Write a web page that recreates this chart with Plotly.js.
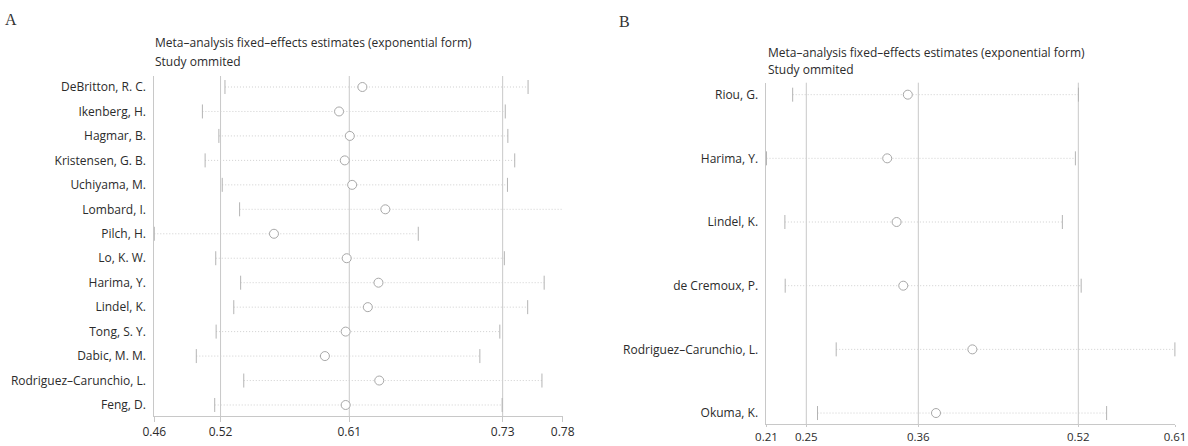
<!DOCTYPE html>
<html>
<head>
<meta charset="utf-8">
<script src="https://cdn.plot.ly/plotly-3.0.1.min.js"></script>
<style>html,body{margin:0;padding:0;background:#fff;}#chart{width:1188px;height:446px;}</style>
</head>
<body>
<div id="chart"></div>
<script>
// ---------- Panel A data ----------
var studiesA = ["DeBritton, R. C.","Ikenberg, H.","Hagmar, B.","Kristensen, G. B.","Uchiyama, M.","Lombard, I.","Pilch, H.","Lo, K. W.","Harima, Y.","Lindel, K.","Tong, S. Y.","Dabic, M. M.","Rodriguez\u2013Carunchio, L.","Feng, D."];
var estA  = [0.6245,0.6065,0.6148,0.6109,0.6166,0.6422,0.5563,0.6124,0.6369,0.6287,0.6116,0.5956,0.6375,0.6116];
var lowA  = [0.5185,0.5011,0.5138,0.5032,0.5164,0.5298,0.4640,0.5114,0.5306,0.5253,0.5117,0.4964,0.5330,0.5106];
var highA = [0.7523,0.7347,0.7367,0.7420,0.7364,0.7792,0.6676,0.7340,0.7647,0.7520,0.7305,0.7151,0.7630,0.7323];
var refA  = [0.5151,0.6144,0.7327];          // overall lower CI, estimate, upper CI
var tickValsA = [0.464,0.5151,0.6144,0.7327,0.779];
var tickTextA = ["0.46","0.52","0.61","0.73","0.78"];

// ---------- Panel B data ----------
var studiesB = ["Riou, G.","Harima, Y.","Lindel, K.","de Cremoux, P.","Rodriguez\u2013Carunchio, L.","Okuma, K."];
var estB  = [0.3489,0.3285,0.3378,0.3444,0.4128,0.3768];
var lowB  = [0.2349,0.2090,0.2272,0.2275,0.2780,0.2595];
var highB = [0.5178,0.5148,0.5019,0.5205,0.6133,0.5457];
var refB  = [0.2484,0.3593,0.5177];
var tickValsB = [0.209,0.2484,0.3593,0.5177,0.6134];
var tickTextB = ["0.21","0.25","0.36","0.52","0.61"];

var titleLine1 = "Meta\u2013analysis fixed\u2013effects estimates (exponential form)";
var titleLine2 = "Study ommited";
var FONT = "Open Sans, Noto Sans, sans-serif";
var GRID = "#c8c8c8";
var CAP = "#b4b4b4";
var DOT = "#cfcfcf";
var CIRC = "#a8a8a8";
var TXT = "#2b2b2b";

function panelTraces(studies, est, low, high, xa, ya) {
  var lx = [], ly = [];
  for (var i = 0; i < studies.length; i++) {
    lx.push(low[i], high[i], null);
    ly.push(studies[i], studies[i], null);
  }
  return [
    {type:"scatter", mode:"lines", x:lx, y:ly, xaxis:xa, yaxis:ya,
     line:{color:DOT, width:1, dash:"1px,2px"}, hoverinfo:"skip", showlegend:false, cliponaxis:false},
    {type:"scatter", mode:"markers", x:low.concat(high), y:studies.concat(studies), xaxis:xa, yaxis:ya,
     marker:{symbol:"line-ns", size:10, line:{color:CAP, width:1}}, showlegend:false, cliponaxis:false},
    {type:"scatter", mode:"markers", x:est, y:studies, xaxis:xa, yaxis:ya,
     marker:{symbol:"circle", size:9, color:"#ffffff", line:{color:CIRC, width:1}}, showlegend:false, cliponaxis:false}
  ];
}

var data = panelTraces(studiesA, estA, lowA, highA, "x", "y")
  .concat(panelTraces(studiesB, estB, lowB, highB, "x2", "y2"));

var shapes = [];
refA.forEach(function(v){ shapes.push({type:"line", xref:"x", yref:"y domain", x0:v, x1:v, y0:0, y1:1, line:{color:GRID, width:1}, layer:"below"}); });
refB.forEach(function(v){ shapes.push({type:"line", xref:"x2", yref:"y2 domain", x0:v, x1:v, y0:0, y1:1, line:{color:GRID, width:1}, layer:"below"}); });

function xAxis(domain, tv, tt, anchor, tlen, fsize) {
  return {domain:domain, anchor:anchor, range:[tv[0], tv[tv.length-1]], tickvals:tv, ticktext:tt,
    showgrid:false, zeroline:false, showline:true, linecolor:GRID, linewidth:1,
    ticks:"outside", ticklen:tlen, tickcolor:GRID, tickfont:{family:FONT, size:fsize, color:TXT}, fixedrange:true};
}
function yAxis(domain, range, anchor) {
  return {domain:domain, anchor:anchor, type:"category", range:range, showgrid:false, zeroline:false,
    showline:true, linecolor:GRID, linewidth:1, ticks:"outside", ticklen:5, tickcolor:"rgba(0,0,0,0)",
    tickfont:{family:FONT, size:12, color:TXT}, fixedrange:true};
}

function txt(x, y, s, font) {
  return {xref:"paper", yref:"paper", x:x/1188, y:1-y/446, xanchor:"left", yanchor:"middle", align:"left",
          showarrow:false, text:s, font:font};
}
var tFont = {family:FONT, size:12, color:TXT};
var pFont = {family:"Liberation Serif, serif", size:16, color:"#333"};

var layout = {
  width:1188, height:446, margin:{l:0, r:0, t:0, b:0},
  paper_bgcolor:"#fff", plot_bgcolor:"#fff", showlegend:false,
  font:{family:FONT, color:TXT},
  xaxis: xAxis([0.12988, 0.47365], tickValsA, tickTextA, "y", 5, 12),
  yaxis: yAxis([0.06726, 0.82960], [13.45, -0.45], "x"),
  xaxis2: xAxis([0.64520, 0.98906], tickValsB, tickTextB, "y2", 2, 11.5),
  yaxis2: yAxis([0.04865, 0.81457], [5.177, -0.188], "x2"),
  shapes: shapes,
  annotations: [
    txt(3, 19, "A", pFont),
    txt(617, 21, "B", pFont),
    txt(153, 43, titleLine1, tFont),
    txt(153, 61, titleLine2, tFont),
    txt(766, 52, titleLine1, tFont),
    txt(766, 69, titleLine2, tFont)
  ]
};

Plotly.newPlot("chart", data, layout, {displayModeBar:false, staticPlot:true});
</script>
</body>
</html>
